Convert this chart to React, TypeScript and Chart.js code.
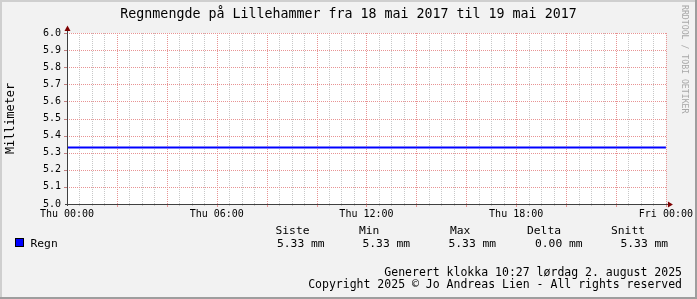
import React, { useEffect, useRef } from "react";
import { Chart, registerables } from "chart.js";

Chart.register(...registerables);

// ---- data ----
const hours = [0, 6, 12, 18, 24];
const rainMm = [5.33, 5.33, 5.33, 5.33, 5.33];
const xTickLabels = ["Thu 00:00", "Thu 06:00", "Thu 12:00", "Thu 18:00", "Fri 00:00"];
const yMin = 5.0;
const yMax = 6.0;
const yStep = 0.1;
const titleText = "Regnmengde på Lillehammer fra 18 mai 2017 til 19 mai 2017";
const yAxisTitle = "Millimeter";
const seriesName = "Regn";
const legendHeaders = ["Siste", "Min", "Max", "Delta", "Snitt"];
const legendValues = ["5.33 mm", "5.33 mm", "5.33 mm", "0.00 mm", "5.33 mm"];
const footerLines = [
  "Generert klokka 10:27 lørdag 2. august 2025",
  "Copyright 2025 © Jo Andreas Lien - All rights reserved",
];
const watermark = "RRDTOOL / TOBI OETIKER";

const W = 697;
const H = 299;
const MONO = '"DejaVu Sans Mono", monospace';
const MAJOR = "#E89393";
const MINOR = "#C8C8C8";
const AXIS = "#404040";
const ARROW = "#7F0000";

const decorPlugin = {
  id: "rrdDecor",
  beforeDraw(chart: any) {
    const ctx = chart.ctx;
    const a = chart.chartArea;
    ctx.save();
    ctx.fillStyle = "#F2F2F2";
    ctx.fillRect(0, 0, W, H);
    // 3D frame
    ctx.fillStyle = "#CFCFCF";
    ctx.fillRect(0, 0, W, 2);
    ctx.fillRect(0, 0, 2, H);
    ctx.fillStyle = "#9E9E9E";
    ctx.fillRect(0, H - 2, W, 2);
    ctx.fillRect(W - 2, 0, 2, H);
    ctx.fillStyle = "#FFFFFF";
    ctx.fillRect(a.left, a.top, a.right - a.left, a.bottom - a.top);
    ctx.restore();
  },
  beforeDatasetsDraw(chart: any) {
    const ctx = chart.ctx;
    const a = chart.chartArea;
    const xs = chart.scales.x;
    const ys = chart.scales.y;
    ctx.save();
    // vertical grid (minor gray, major red every 2h)
    xs.ticks.forEach((t: any) => {
      const px = Math.round(xs.getPixelForValue(t.value));
      if (px <= a.left) return;
      const major = Math.abs(t.value % 2) < 1e-6;
      ctx.fillStyle = major ? MAJOR : MINOR;
      for (let y = Math.round(a.top); y < a.bottom; y += 2) ctx.fillRect(px, y, 1, 1);
      // tick below axis
      ctx.fillRect(px, Math.round(a.bottom), 1, major ? 3 : 2);
    });
    // horizontal grid
    ys.ticks.forEach((t: any) => {
      const py = Math.round(ys.getPixelForValue(t.value));
      if (py >= a.bottom) return;
      ctx.fillStyle = MAJOR;
      for (let x = Math.round(a.left); x < a.right; x += 2) ctx.fillRect(x, py, 1, 1);
      ctx.fillStyle = "#C08080";
      ctx.fillRect(Math.round(a.left) - 3, py, 3, 1);
    });
    ctx.restore();
  },
  afterDraw(chart: any) {
    const ctx = chart.ctx;
    const a = chart.chartArea;
    ctx.save();
    // axes
    ctx.strokeStyle = AXIS;
    ctx.lineWidth = 1;
    ctx.beginPath();
    ctx.moveTo(a.left + 0.5, a.bottom + 2);
    ctx.lineTo(a.left + 0.5, a.top - 2);
    ctx.moveTo(a.left - 2, a.bottom + 0.5);
    ctx.lineTo(a.right + 2, a.bottom + 0.5);
    ctx.stroke();
    // arrows
    ctx.fillStyle = ARROW;
    ctx.beginPath();
    ctx.moveTo(a.left + 0.5, a.top - 7.5);
    ctx.lineTo(a.left - 2.5, a.top - 2);
    ctx.lineTo(a.left + 3.5, a.top - 2);
    ctx.closePath();
    ctx.fill();
    ctx.beginPath();
    ctx.moveTo(a.right + 7, a.bottom + 0.5);
    ctx.lineTo(a.right + 2, a.bottom - 2.5);
    ctx.lineTo(a.right + 2, a.bottom + 3.5);
    ctx.closePath();
    ctx.fill();

    ctx.fillStyle = "#000";
    ctx.textBaseline = "alphabetic";
    // title
    ctx.font = `13.3px ${MONO}`;
    ctx.textAlign = "center";
    ctx.fillText(titleText, W / 2, 17.5);
    // y axis title
    ctx.save();
    ctx.font = `11.8px ${MONO}`;
    ctx.translate(14, (a.top + a.bottom) / 2);
    ctx.rotate(-Math.PI / 2);
    ctx.textAlign = "center";
    ctx.fillText(yAxisTitle, 0, 0);
    ctx.restore();
    // watermark
    ctx.save();
    ctx.font = `8.2px ${MONO}`;
    ctx.fillStyle = "#A8A8A8";
    ctx.translate(681.5, 5);
    ctx.rotate(Math.PI / 2);
    ctx.textAlign = "left";
    ctx.fillText(watermark, 0, 0);
    ctx.restore();

    // legend
    ctx.fillStyle = "#0000FF";
    ctx.fillRect(15, 238, 9, 9);
    ctx.strokeStyle = "#000";
    ctx.strokeRect(15.5, 238.5, 8, 8);
    ctx.fillStyle = "#000";
    ctx.font = `11.3px ${MONO}`;
    ctx.textAlign = "left";
    ctx.fillText(seriesName, 30.5, 246.7);
    const hx = [275.5, 359, 450, 527, 611];
    const vx = [277, 362.5, 448.5, 535, 620.5];
    legendHeaders.forEach((h, i) => ctx.fillText(h, hx[i], 233.5));
    legendValues.forEach((v, i) => ctx.fillText(v, vx[i], 246.7));
    // footer
    ctx.font = `11.5px ${MONO}`;
    ctx.textAlign = "right";
    ctx.fillText(footerLines[0], 682, 275.7);
    ctx.fillText(footerLines[1], 682, 288.3);
    ctx.restore();
  },
};

export default function App() {
  const ref = useRef<HTMLCanvasElement | null>(null);
  useEffect(() => {
    if (!ref.current) return;
    const chart = new Chart(ref.current, {
      type: "line",
      data: {
        datasets: [
          {
            label: seriesName,
            data: hours.map((h, i) => ({ x: h, y: rainMm[i] })),
            borderColor: "#0000FF",
            borderWidth: 2,
            pointRadius: 0,
            tension: 0,
          },
        ],
      },
      options: {
        responsive: false,
        animation: false,
        devicePixelRatio: 1,
        layout: { padding: { left: 0, top: 33, right: 30, bottom: 75 } },
        plugins: { legend: { display: false }, tooltip: { enabled: false }, title: { display: false } },
        scales: {
          x: {
            type: "linear",
            min: hours[0],
            max: hours[hours.length - 1],
            afterFit: (s: any) => {
              s.height = 20;
            },
            border: { display: false },
            grid: { display: false, drawOnChartArea: false, drawTicks: false, tickLength: 3 },
            ticks: {
              stepSize: 0.5,
              autoSkip: false,
              maxRotation: 0,
              padding: 4,
              color: "#000",
              font: { family: MONO, size: 10 },
              callback: (v: any) => {
                const n = Number(v);
                return n % 6 === 0 ? xTickLabels[n / 6] : "";
              },
            },
          },
          y: {
            type: "linear",
            min: yMin,
            max: yMax,
            afterFit: (s: any) => {
              s.width = 67;
            },
            border: { display: false },
            grid: { display: false, drawOnChartArea: false, drawTicks: false, tickLength: 4 },
            ticks: {
              stepSize: yStep,
              padding: 6,
              color: "#000",
              font: { family: MONO, size: 10 },
              callback: (v: any) => Number(v).toFixed(1),
            },
          },
        },
      },
      plugins: [decorPlugin],
    } as any);
    return () => chart.destroy();
  }, []);
  return (
    <div style={{ position: "fixed", left: 0, top: 0, width: W, height: H }}>
      <canvas ref={ref} width={W} height={H} style={{ display: "block", width: W, height: H }} />
    </div>
  );
}
